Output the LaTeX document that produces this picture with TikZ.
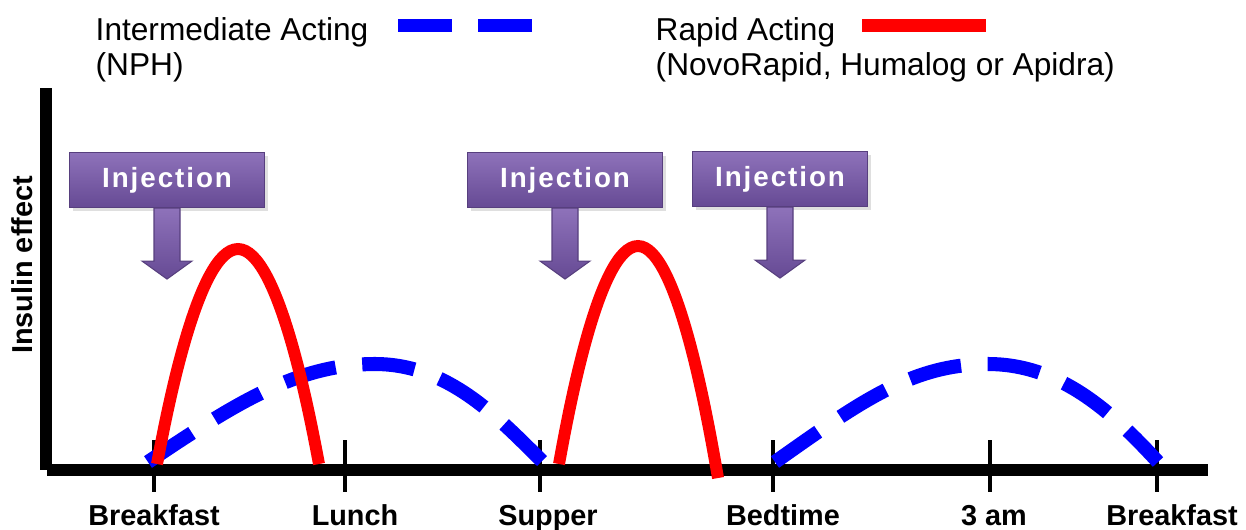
\documentclass[tikz,border=0pt]{standalone}
\usepackage{fontspec}
\setmainfont{Liberation Sans}
\usetikzlibrary{calc,shadows}
\definecolor{nphblue}{RGB}{0,0,255}
\definecolor{rapidred}{RGB}{255,0,0}
\definecolor{injtop}{RGB}{142,114,186}
\definecolor{injbot}{RGB}{102,74,148}

\begin{document}
\begin{tikzpicture}[
  x=0.01cm, y=-0.01cm,
  axis/.style={line width=3.4pt},
  tickmark/.style={line width=1.4pt},
  nph/.style={nphblue,line width=4pt,dash pattern=on 15pt off 7.6pt},
  rapid/.style={rapidred,line width=3.4pt},
  legtxt/.style={font=\fontsize{9}{9.8}\selectfont,align=left,anchor=north west,inner sep=0pt},
  tlbl/.style={font=\bfseries\fontsize{8.2}{10}\selectfont,inner sep=0pt},
  injbox/.style={top color=injtop,bottom color=injbot,draw=injbot!85!black,line width=0.3pt,
    minimum height=0.55cm,text=white,
    font=\bfseries\fontsize{7.9}{8}\selectfont\addfontfeature{LetterSpace=7},
    drop shadow={opacity=0.25,shadow xshift=1pt,shadow yshift=-1pt}},
  injarrow/.style={top color=injtop,bottom color=injbot,draw=injbot!85!black,line width=0.3pt}
]
\useasboundingbox (0,0) rectangle (1246,529);

% --- legend ---
\node[legtxt] (legnph) at (95,17) {Intermediate Acting\\(NPH)};
\draw[nphblue,line width=3.7pt,dash pattern=on 15.4pt off 7.4pt] (398,25) -- (532,25);
\node[legtxt] (legrapid) at (655,17) {Rapid Acting\\(NovoRapid, Humalog or Apidra)};
\draw[rapidred,line width=3.7pt] (862,25) -- (986,25);

% --- axes ---
\draw[axis] (46,88) -- (46,470);
\draw[axis] (47,470) -- (1208,470);
\node[tlbl,rotate=90] (ylbl) at (22,265) {Insulin effect};

% --- ticks and times of day ---
\foreach \tx/\lx/\txt in {154/154/Breakfast, 345/355/Lunch, 540/548/Supper,
                          773/783/Bedtime, 990/994/3 am, 1157/1172/Breakfast}{
  \draw[tickmark] (\tx,440) -- (\tx,492);
  \node[tlbl,anchor=base] at (\lx,525) {\txt};
}

% --- intermediate acting (NPH) ---
\draw[nph] (148,462) .. controls (240,400) and (300,364) .. (375,364)
                     .. controls (450,364) and (500,420) .. (543,462);
\draw[nph] (775,462) .. controls (860,402) and (912,364) .. (988,364)
                     .. controls (1060,364) and (1112,412) .. (1158,462);

% --- rapid acting ---
\draw[rapid] (157,464) parabola bend (238,249) (319,464);
\draw[rapid] (559,464) parabola bend (638,246) (718,478);

% --- injections ---
\node[injbox,minimum width=1.95cm] (inj1) at (167,180) {Injection};
\node[injbox,minimum width=1.95cm] (inj2) at (565,180) {Injection};
\node[injbox,minimum width=1.75cm] (inj3) at (780,179) {Injection};
\foreach \b in {inj1,inj2,inj3}
  \path[injarrow] ($(\b.south)+(-13,0)$) -- ++(0,53) -- ++(-12,0) -- ++(25,18)
                  -- ++(25,-18) -- ++(-12,0) -- ++(0,-53) -- cycle;
\end{tikzpicture}
\end{document}
